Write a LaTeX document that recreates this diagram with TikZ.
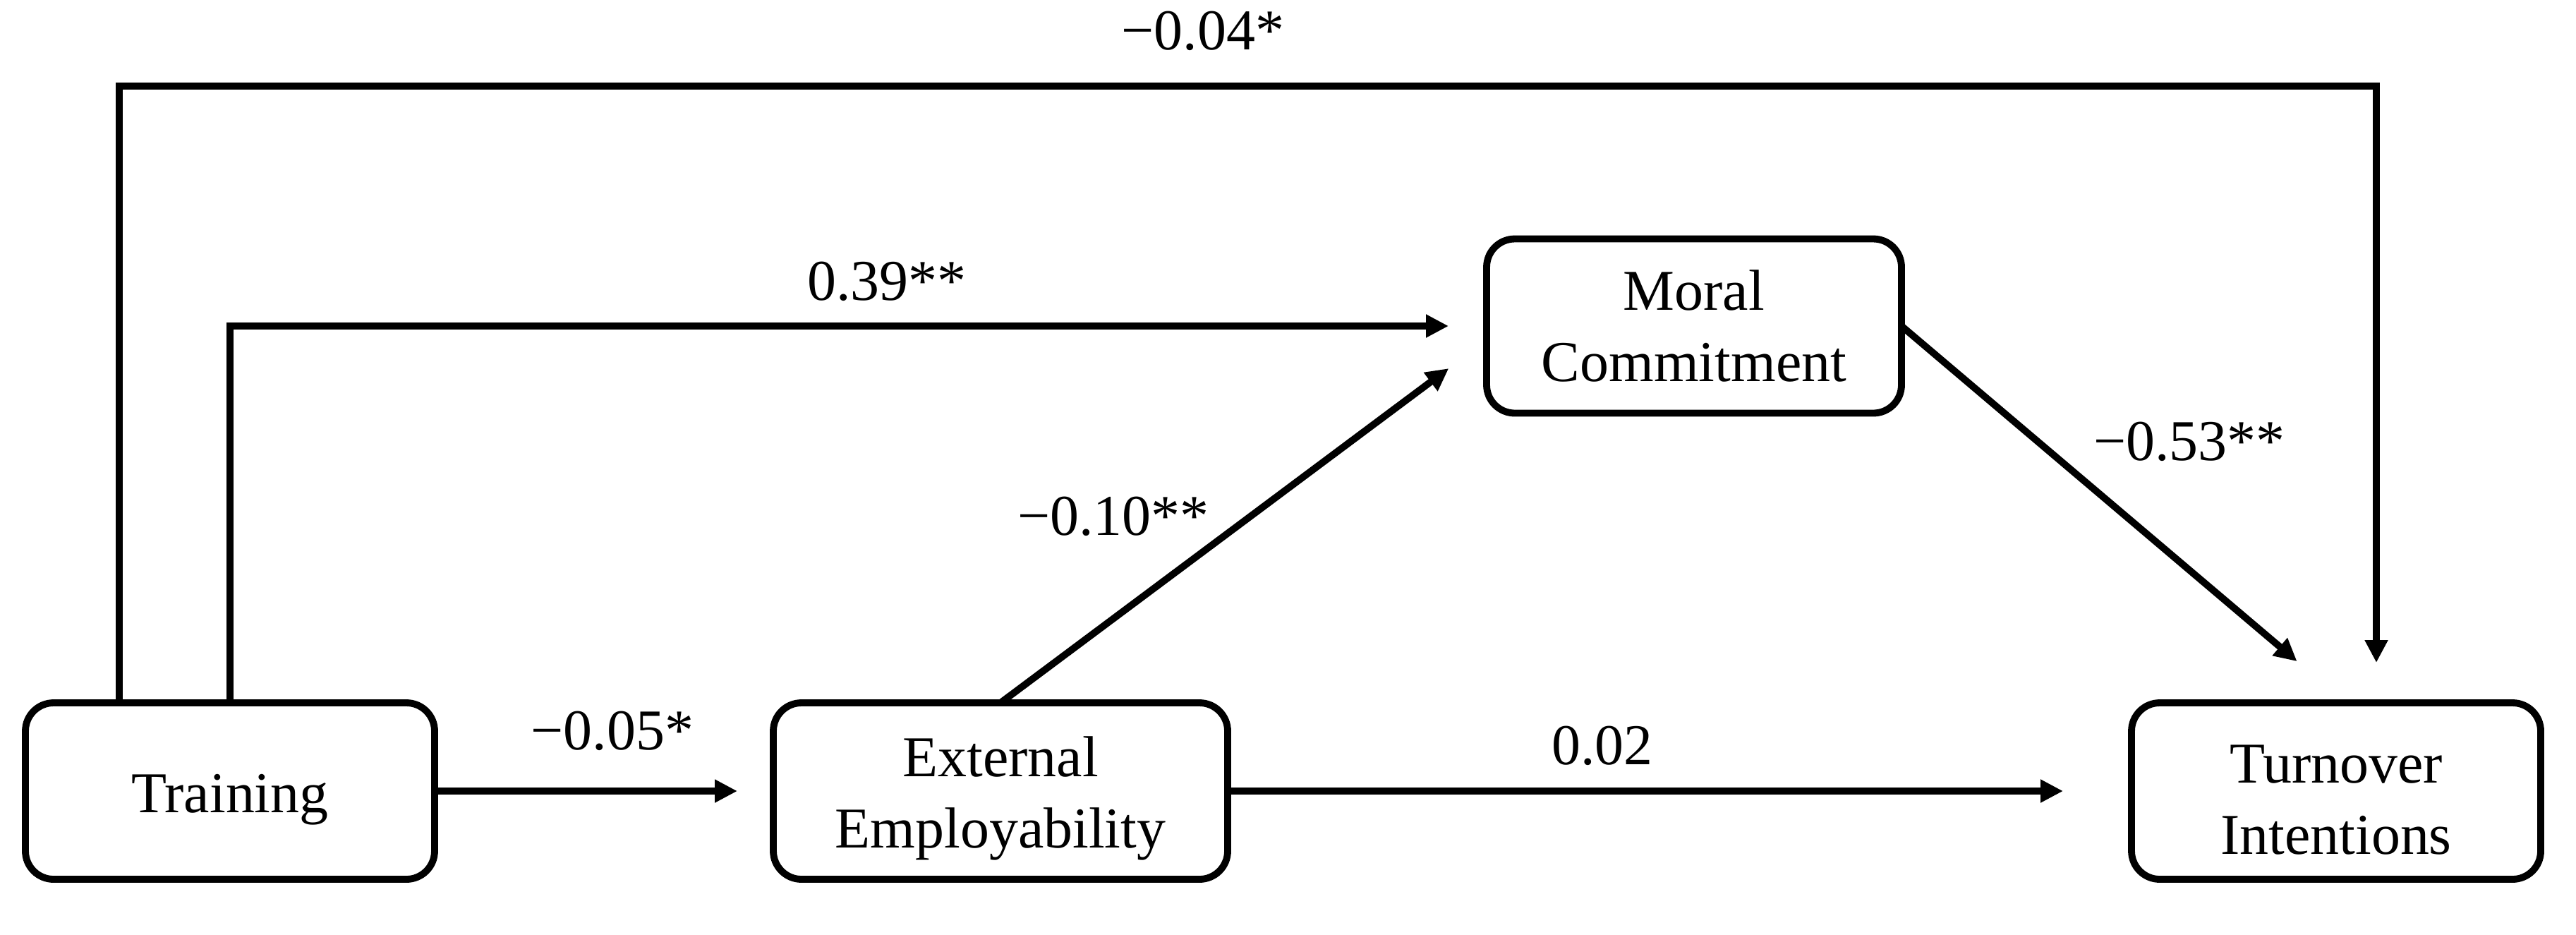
\documentclass[tikz,border=0pt]{standalone}
\usepackage{fontspec}
\setmainfont{Liberation Serif}
\usetikzlibrary{arrows.meta,calc}
\newcommand{\boxlift}{\rule{0pt}{0.78cm}}
\begin{document}
\begin{tikzpicture}[x=1cm,y=1cm,
  box/.style={draw, line width=2.8pt, rounded corners=0.4cm, minimum height=2.5cm,
    align=center, inner sep=0pt, outer sep=0pt, font=\fontsize{23.3}{28.7}\selectfont},
  lbl/.style={anchor=base, inner sep=0pt, font=\fontsize{23.3}{28}\selectfont},
  arr/.style={line width=2.8pt, -{Triangle[length=0.32cm,width=0.31cm]}}]
\useasboundingbox (0,0) rectangle (36.51,-13.24);

\node[box, minimum width=5.8cm]  (tr) at (3.26,-11.21) {\boxlift Training};
\node[box, minimum width=6.44cm] (ee) at (14.18,-11.21) {\boxlift External\\Employability};
\node[box, minimum width=5.88cm, minimum height=2.47cm] (mc) at (24.01,-4.62) {Moral\\Commitment};
\node[box, minimum width=5.8cm]  (ti) at (33.11,-11.21) {\boxlift Turnover\\Intentions};

\coordinate (top) at (0,-1.22);

\draw[arr, shorten >=0.51cm] (tr.east) -- (ee.west);
\draw[arr, shorten >=0.97cm] (ee.east) -- (ti.west);
\draw[arr, shorten >=0.67cm] (ee.north) -- ([yshift=-2mm]mc.west);
\draw[arr, shorten >=0.54cm] (tr.north) |- (mc.west);
\draw[arr, shorten >=0.57cm] ([xshift=-1.57cm]tr.north) -- ([xshift=-1.57cm]tr.north |- top) -| ([xshift=0.57cm]ti.north);
\draw[arr, shorten >=0.91cm] (mc.east) -- ([xshift=1.4mm]ti.north);

\node[lbl] (l04) at (17.05,-0.70) {−0.04*};
\node[lbl] (l39) at (12.57,-4.25) {0.39**};
\node[lbl] (l05) at (8.68,-10.62) {−0.05*};
\node[lbl] (l10) at (15.78,-7.58) {−0.10**};
\node[lbl] (l02) at (22.71,-10.83) {0.02};
\node[lbl] (l53) at (31.03,-6.52) {−0.53**};
\end{tikzpicture}
\end{document}
